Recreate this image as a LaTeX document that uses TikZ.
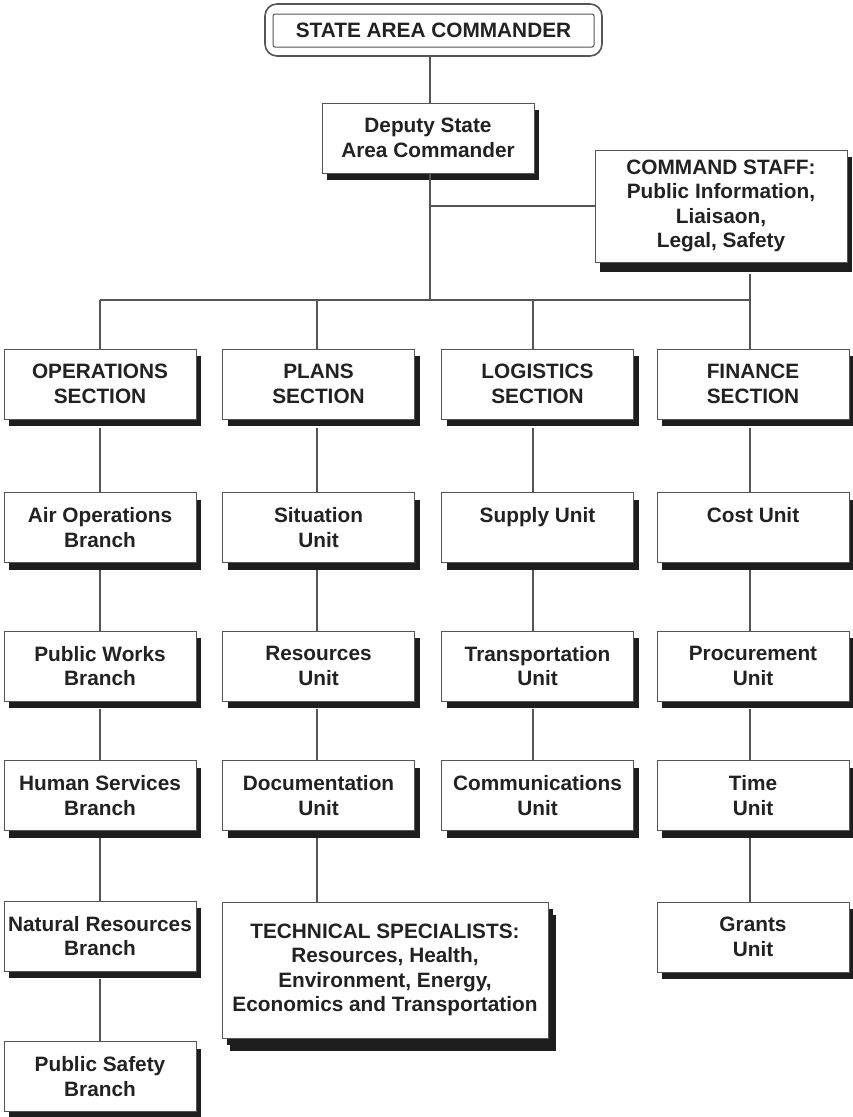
\documentclass[tikz,border=0pt]{standalone}
\usepackage{fontspec}
\setmainfont{Liberation Sans}
\usetikzlibrary{shadows}
\definecolor{txt}{HTML}{222222}
\definecolor{edge}{HTML}{555555}
\definecolor{shad}{HTML}{1E1E1E}
\tikzset{
  box/.style={draw=edge, line width=1pt, fill=white, inner sep=0pt,
    minimum width=192pt, minimum height=70pt, align=center, text=txt,
    font=\bfseries\fontsize{20.8}{24.5}\selectfont,
    drop shadow={shadow xshift=5pt,shadow yshift=-7pt,fill=shad,opacity=1}},
  bigshadow/.style={drop shadow={shadow xshift=8pt,shadow yshift=-13pt,fill=shad,opacity=1}},
  link/.style={draw=edge, line width=1.5pt}
}
\begin{document}
\begin{tikzpicture}[x=1pt,y=-1pt]
\useasboundingbox (0,0) rectangle (853,1117);
% top
\node[draw=edge, line width=1.6pt, rounded corners=12pt, minimum width=337pt, minimum height=52pt, inner sep=0pt] (topouter) at (433.5,30) {};
\node[draw=edge, line width=1pt, rounded corners=2pt, minimum width=321pt, minimum height=33pt, inner sep=0pt, text=txt, font=\bfseries\fontsize{20.8}{24.5}\selectfont] (top) at (433.5,30.5) {STATE AREA COMMANDER};
% deputy
\node[box, minimum width=212pt] (dep) at (428,138) {Deputy State\\Area Commander};
% command staff
\node[box, minimum width=252pt, minimum height=112pt, drop shadow={shadow xshift=5pt,shadow yshift=-10pt,fill=shad,opacity=1}] (cmd) at (721,206) {COMMAND STAFF:\\Public Information,\\Liaisaon,\\Legal, Safety};
% columns
\coordinate (c1) at (100,300);
\coordinate (c2) at (317,300);
\coordinate (c3) at (533,300);
\coordinate (c4) at (750,300);
\coordinate (cd) at (430,300);
% sections
\node[box] (ops) at (100,384) {OPERATIONS\\SECTION};
\node[box] (pla) at (318.5,384) {PLANS\\SECTION};
\node[box] (log) at (537.5,384) {LOGISTICS\\SECTION};
\node[box] (fin) at (753,384) {FINANCE\\SECTION};
% column 1
\node[box] (air) at (100,527.5) {Air Operations\\Branch};
\node[box] (pwb) at (100,666) {Public Works\\Branch};
\node[box] (hsb) at (100,795.5) {Human Services\\Branch};
\node[box] (nrb) at (100,936) {Natural Resources\\Branch};
\node[box] (psb) at (100,1076.5) {Public Safety\\Branch};
% column 2
\node[box] (sit) at (318.5,527.5) {Situation\\Unit};
\node[box] (res) at (318.5,666) {Resources\\Unit};
\node[box] (doc) at (318.5,795.5) {Documentation\\Unit};
\node[box, minimum width=326pt, minimum height=136pt, bigshadow] (tec) at (385,970) {TECHNICAL SPECIALISTS:\\Resources, Health,\\Environment, Energy,\\Economics and Transportation};
% column 3
\node[box] (sup) at (537.5,527.5) {Supply Unit\\\phantom{Unit}};
\node[box] (tra) at (537.5,666) {Transportation\\Unit};
\node[box] (com) at (537.5,795.5) {Communications\\Unit};
% column 4
\node[box] (cos) at (753,527.5) {Cost Unit\\\phantom{Unit}};
\node[box] (pro) at (753,666) {Procurement\\Unit};
\node[box] (tim) at (753,795.5) {Time\\Unit};
\node[box] (gra) at (753,937) {Grants\\Unit};
% connectors
\begin{scope}[on background layer/.style={}]
\draw[link] (cd |- topouter.south) -- (cd |- dep.north);
\draw[link] (cd |- dep.south) -- (cd);
\draw[link] (cd |- cmd.west) -- (cmd.west);
\draw[link] (c4 |- cmd.south) ++(0,11) -- (c4);
\draw[link] (c1) -- (c4);
\draw[link] (c1) -- (c1 |- ops.north);
\draw[link] (c2) -- (c2 |- pla.north);
\draw[link] (c3) -- (c3 |- log.north);
\draw[link] (c4) -- (c4 |- fin.north);
\draw[link] (c1 |- ops.south) ++(0,8) -- (c1 |- air.north);
\draw[link] (c1 |- air.south) ++(0,7) -- (c1 |- pwb.north);
\draw[link] (c1 |- pwb.south) ++(0,7) -- (c1 |- hsb.north);
\draw[link] (c1 |- hsb.south) ++(0,7) -- (c1 |- nrb.north);
\draw[link] (c1 |- nrb.south) ++(0,7) -- (c1 |- psb.north);
\draw[link] (c2 |- pla.south) ++(0,8) -- (c2 |- sit.north);
\draw[link] (c2 |- sit.south) ++(0,7) -- (c2 |- res.north);
\draw[link] (c2 |- res.south) ++(0,7) -- (c2 |- doc.north);
\draw[link] (c2 |- doc.south) ++(0,7) -- (c2 |- tec.north);
\draw[link] (c3 |- log.south) ++(0,8) -- (c3 |- sup.north);
\draw[link] (c3 |- sup.south) ++(0,7) -- (c3 |- tra.north);
\draw[link] (c3 |- tra.south) ++(0,7) -- (c3 |- com.north);
\draw[link] (c4 |- fin.south) ++(0,8) -- (c4 |- cos.north);
\draw[link] (c4 |- cos.south) ++(0,7) -- (c4 |- pro.north);
\draw[link] (c4 |- pro.south) ++(0,7) -- (c4 |- tim.north);
\draw[link] (c4 |- tim.south) ++(0,7) -- (c4 |- gra.north);
\end{scope}
\end{tikzpicture}
\end{document}
